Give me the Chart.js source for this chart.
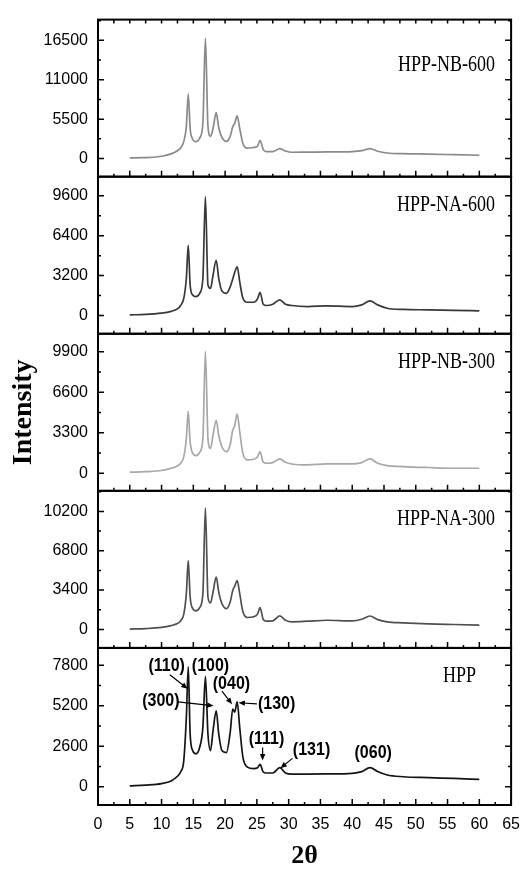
<!DOCTYPE html>
<html>
<head>
<meta charset="utf-8">
<title>XRD patterns</title>
<script src="https://cdn.jsdelivr.net/npm/chart.js@4.4.0/dist/chart.umd.min.js"></script>
<style>
  html, body { margin: 0; padding: 0; background: #fff; }
  #wrap { width: 530px; height: 869px; position: relative; }
</style>
</head>
<body>
<div id="wrap"><canvas id="xrd"></canvas></div>
<script>
// 2theta sample points (shared by all patterns)
var theta = [5, 7.5, 10, 11.5, 12.5, 13, 13.5, 13.9, 14.2, 14.5,
  14.9, 15.4, 16, 16.5, 16.9, 17.3, 17.7, 18.1, 18.6, 19,
  19.5, 20.2, 20.8, 21.2, 21.5, 21.9, 22.3, 22.8, 23.5, 24.5,
  25.1, 25.5, 26, 26.5, 27.5, 28.6, 29.5, 30.5, 33, 36,
  40, 41.5, 42.8, 44, 45.5, 48, 52, 56, 60];

// intensities, top panel first
var hppNB600 = [100, 120, 320, 650, 1100, 1470, 2400, 4500, 9000, 4200,
  2700, 2350, 2860, 4900, 16800, 4500, 3100, 4200, 6400, 4300,
  2950, 2400, 3100, 4450, 4900, 5950, 4200, 2100, 1450, 1550,
  1700, 2550, 1250, 970, 980, 1380, 1050, 880, 900, 920,
  980, 1100, 1390, 1020, 780, 680, 620, 540, 460];
var hppNA600 = [50, 80, 185, 330, 530, 800, 1380, 2970, 5620, 2440,
  1640, 1510, 1780, 2970, 9540, 2440, 2170, 3230, 4430, 2970,
  1960, 1780, 2300, 2920, 3450, 3900, 2700, 1380, 1060, 1060,
  1325, 1860, 900, 800, 900, 1250, 900, 800, 715, 770,
  715, 850, 1170, 850, 580, 480, 450, 400, 370];
var hppNB300 = [80, 120, 215, 400, 590, 810, 1345, 2820, 5030, 2550,
  1610, 1430, 1700, 2820, 9950, 2820, 2020, 3090, 4300, 3090,
  2150, 1750, 2340, 3500, 3850, 4840, 3360, 1610, 1080, 1130,
  1345, 1750, 890, 810, 860, 1160, 890, 750, 670, 750,
  750, 860, 1160, 810, 620, 540, 460, 400, 400];
var hppNA300 = [30, 70, 170, 330, 510, 740, 1320, 3090, 5950, 2800,
  1800, 1600, 1890, 3090, 10520, 2800, 2290, 3230, 4520, 3230,
  2230, 1800, 2370, 3370, 3720, 4230, 3090, 1520, 1030, 1090,
  1320, 1890, 860, 715, 740, 1170, 800, 660, 710, 790,
  740, 880, 1160, 850, 650, 570, 480, 425, 370];
var hpp = [60, 110, 210, 380, 680, 950, 1700, 4450, 7700, 3390,
  2330, 2120, 2540, 3820, 7100, 3390, 2330, 3600, 4880, 3390,
  2330, 2200, 3500, 5000, 4800, 5450, 3800, 1910, 1270, 1170,
  1230, 1440, 950, 890, 890, 1230, 890, 820, 820, 830,
  870, 980, 1240, 980, 760, 650, 590, 540, 480];

var sampleNames = ['HPP-NB-600', 'HPP-NA-600', 'HPP-NB-300', 'HPP-NA-300', 'HPP'];
var series = [hppNB600, hppNA600, hppNB300, hppNA300, hpp];

// y tick labels and axis ranges per panel
var yTicks = [
  [0, 5500, 11000, 16500],
  [0, 3200, 6400, 9600],
  [0, 3300, 6600, 9900],
  [0, 3400, 6800, 10200],
  [0, 2600, 5200, 7800]
];
var yMin = [-2530, -1470, -1440, -1600, -1165];
var yMax = [19400, 11140, 11360, 11980, 8920];

// peak indexing on the HPP pattern: label, label 2theta, label intensity
var hklLabels = ['(110)', '(100)', '(300)', '(040)', '(130)', '(111)', '(131)', '(060)'];
var hklTheta = [10.8, 17.7, 9.9, 21.0, 28.1, 26.5, 33.6, 43.3];
var hklInt = [7740, 7740, 5500, 6600, 5350, 3100, 2400, 2200];
// arrows: [from theta, from I, to theta, to I]
var hklArrows = [
  [11.3, 7200, 14.1, 6300],
  [12.6, 5450, 18.2, 5200],
  [19.5, 6150, 21.1, 5300],
  [25.0, 5330, 22.1, 5400],
  [25.9, 2520, 25.9, 1700],
  [30.6, 1830, 28.7, 1200]
];

var serif = "'Liberation Serif', 'Times New Roman', serif";
var sans = "'Liberation Sans', Arial, sans-serif";
var lineColors = ['#8a8a8a', '#383838', '#a8a8a8', '#505050', '#141414'];
var panelIds = ['y1', 'y2', 'y3', 'y4', 'y5'];

function stretchText(ctx, text, x, y, sy) {
  ctx.save();
  ctx.translate(x, y);
  ctx.scale(1, sy);
  ctx.fillText(text, 0, 0);
  ctx.restore();
}

function drawArrow(ctx, x1, y1, x2, y2) {
  var a = Math.atan2(y2 - y1, x2 - x1), h = 7;
  ctx.beginPath();
  ctx.moveTo(x1, y1);
  ctx.lineTo(x2 - Math.cos(a) * 4, y2 - Math.sin(a) * 4);
  ctx.stroke();
  ctx.beginPath();
  ctx.moveTo(x2, y2);
  ctx.lineTo(x2 - h * Math.cos(a - 0.4), y2 - h * Math.sin(a - 0.4));
  ctx.lineTo(x2 - h * Math.cos(a + 0.4), y2 - h * Math.sin(a + 0.4));
  ctx.closePath();
  ctx.fill();
}

//frames, inward ticks, panel names and hkl labels
var panelFrames = {
  id: 'panelFrames',
  afterDatasetsDraw: function(chart) {
    var ctx = chart.ctx, area = chart.chartArea, xs = chart.scales.x;
    var xVals = xs.ticks.map(function(t) { return t.value; });
    var xStep = xVals[1] - xVals[0];
    ctx.save();
    ctx.strokeStyle = '#000';
    ctx.fillStyle = '#000';

    panelIds.forEach(function(id, i) {
      var s = chart.scales[id];
      var vals = s.ticks.map(function(t) { return t.value; });
      var step = vals[1] - vals[0];
      ctx.lineWidth = 1.5;
      ctx.beginPath();
      vals.forEach(function(v) {
        var y = s.getPixelForValue(v);
        ctx.moveTo(area.left, y); ctx.lineTo(area.left + 6, y);
        ctx.moveTo(area.right, y); ctx.lineTo(area.right - 6, y);
      });
      for (var v = vals[0] - step / 2; v < s.max; v += step) {
        if (v <= s.min) continue;
        var ym = s.getPixelForValue(v);
        ctx.moveTo(area.left, ym); ctx.lineTo(area.left + 3, ym);
        ctx.moveTo(area.right, ym); ctx.lineTo(area.right - 3, ym);
      }
      // x ticks along the bottom of every panel
      xVals.forEach(function(t) {
        var x = xs.getPixelForValue(t);
        ctx.moveTo(x, s.bottom); ctx.lineTo(x, s.bottom - 6);
        var xm = xs.getPixelForValue(t + xStep / 2);
        if (t + xStep / 2 < xs.max) { ctx.moveTo(xm, s.bottom); ctx.lineTo(xm, s.bottom - 3); }
        if (i === 0) {
          ctx.moveTo(x, s.top); ctx.lineTo(x, s.top + 4);
          if (t + xStep / 2 < xs.max) { ctx.moveTo(xm, s.top); ctx.lineTo(xm, s.top + 4); }
        }
      });
      ctx.stroke();
      ctx.lineWidth = 2;
      ctx.strokeRect(area.left, s.top, area.right - area.left, s.bottom - s.top);

      // sample name
      ctx.font = '18px ' + serif;
      ctx.textAlign = 'right';
      ctx.textBaseline = 'middle';
      var off = i === 0 ? 45 : 28;
      var rx = i === 4 ? area.right - 35 : area.right - 16;
      stretchText(ctx, sampleNames[i], rx, s.top + off, 1.3);
    });

    // hkl annotations on the HPP panel
    var sh = chart.scales.y5;
    ctx.font = 'bold 16px ' + sans;
    ctx.textAlign = 'center';
    ctx.textBaseline = 'middle';
    hklLabels.forEach(function(lab, k) {
      stretchText(ctx, lab, xs.getPixelForValue(hklTheta[k]), sh.getPixelForValue(hklInt[k]), 1.15);
    });
    ctx.lineWidth = 1.2;
    hklArrows.forEach(function(a) {
      drawArrow(ctx, xs.getPixelForValue(a[0]), sh.getPixelForValue(a[1]),
        xs.getPixelForValue(a[2]), sh.getPixelForValue(a[3]));
    });
    ctx.restore();
  }
};

function plainNumber(v) {
  return String(v);
}

function yScale(i) {
  var sc = {
    type: 'linear',
    position: 'left',
    stack: 'xrd',
    stackWeight: 1,
    min: yMin[i],
    max: yMax[i],
    afterBuildTicks: function(s) {
      s.ticks = yTicks[i].map(function(v) { return { value: v }; });
    },
    ticks: { padding: 10, color: '#000', font: { size: 16, family: sans }, callback: plainNumber },
    grid: { drawOnChartArea: false, drawTicks: false },
    border: { display: false },
    afterFit: function(s) { s.width = 98; }
  };
  if (i === 2) {
    sc.title = { display: true, text: 'Intensity', color: '#000',
      font: { size: 28, weight: 'bold', family: serif }, padding: { top: 7, bottom: 0 } };
  }
  return sc;
}

var datasets = series.map(function(vals, i) {
  return {
    label: sampleNames[i],
    data: theta.map(function(t, k) { return { x: t, y: vals[k] }; }),
    yAxisID: panelIds[i],
    borderColor: lineColors[i],
    borderWidth: 1.7,
    pointRadius: 0,
    cubicInterpolationMode: 'monotone',
    fill: false
  };
});

var scales = {
  x: {
    type: 'linear',
    position: 'bottom',
    min: 0,
    max: 65,
    ticks: { stepSize: 5, padding: 10, color: '#000', font: { size: 16, family: sans }, maxRotation: 0, autoSkip: false, callback: plainNumber },
    grid: { drawOnChartArea: false, drawTicks: false },
    border: { display: false },
    title: { display: true, text: '2θ', color: '#000',
      font: { size: 26, weight: 'bold', family: serif, lineHeight: 1 }, padding: { top: 0, bottom: 0 } },
    afterFit: function(s) { s.height = 64; }
  }
};
// defined bottom panel first so the first sample lands on top
for (var i = panelIds.length - 1; i >= 0; i--) {
  scales[panelIds[i]] = yScale(i);
}

var chart = new Chart(document.getElementById('xrd'), {
  type: 'line',
  data: { datasets: datasets },
  options: {
    responsive: true,
    maintainAspectRatio: false,
    animation: false,
    layout: { padding: { top: 12, right: 18, left: 0, bottom: 0 } },
    plugins: { legend: { display: false }, tooltip: { enabled: false } },
    scales: scales
  },
  plugins: [panelFrames]
});
</script>
</body>
</html>
